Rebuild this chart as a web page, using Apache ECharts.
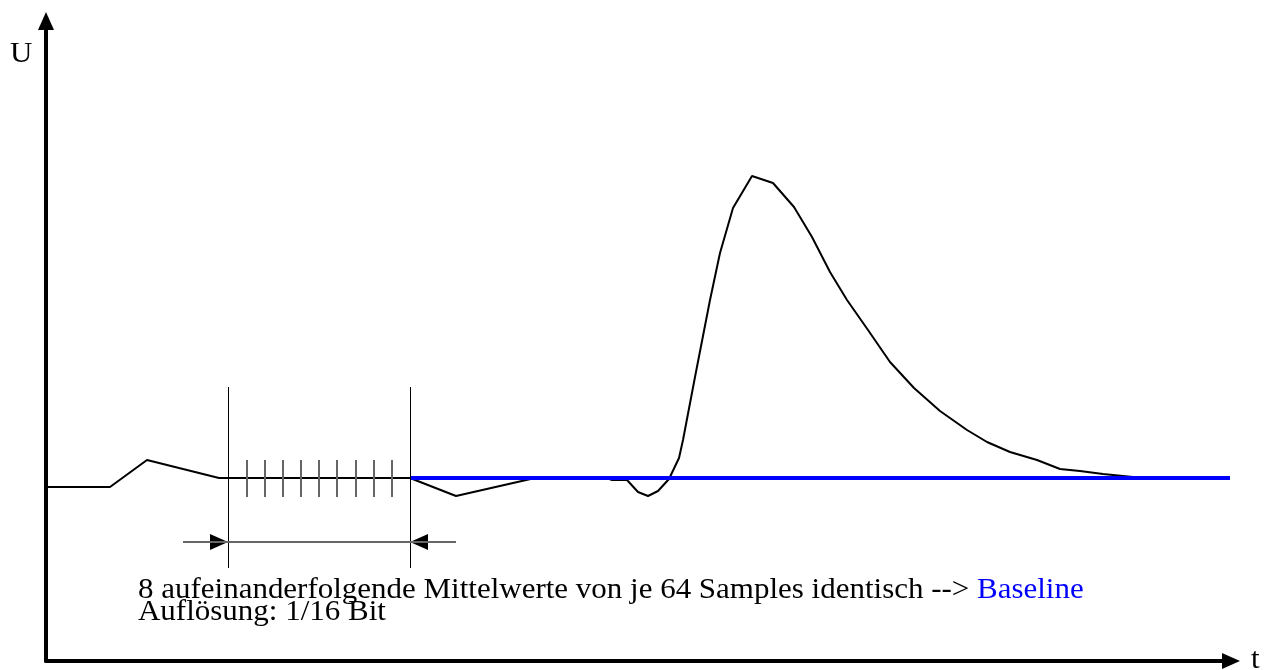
<!DOCTYPE html>
<html>
<head>
<meta charset="utf-8">
<script src="https://cdn.jsdelivr.net/npm/echarts@6/dist/echarts.min.js"></script>
<style>
html,body{margin:0;padding:0;background:#fff;}
#chart{width:1264px;height:670px;}
</style>
</head>
<body>
<div id="chart"></div>
<script>
// Signal (time t, voltage U)
const signalT = [0, 64, 101, 173, 364, 410, 489, 561, 566, 581, 592, 602, 612, 623, 633, 637, 649, 664, 674, 687, 706, 727, 748, 766, 784, 801, 822, 844, 868, 894, 921, 941, 964, 991, 1014, 1034, 1057, 1087, 1099];
const signalU = [174, 174, 201, 183, 183, 165, 183, 183, 181, 181, 169, 165, 170, 182, 203, 221, 284, 361, 408, 453, 485, 478, 454, 424, 389, 361, 331, 299, 273, 250, 231, 219, 209, 201, 192, 190, 187, 184, 183];
// Baseline (blue)
const baselineT = [364, 1184];
const baselineU = [183, 183];
// Averaging window boundaries
const windowT = [182, 364];
const windowU = [93, 274];
// Sample marks inside the window
const sampleT = [201, 219, 237, 255, 273, 291, 310, 328, 346];
const sampleU = [164, 201];
// Dimension line with arrows
const dimT = [137, 410];
const dimU = 119;
const dimArrowTips = [182, 364];
const dimArrowDirs = [1, -1];
// Texts
const axisNameY = 'U';
const axisNameX = 't';
const noteLine1 = '8 aufeinanderfolgende Mittelwerte von je 64 Samples identisch --> ';
const noteBlue = 'Baseline';
const noteLine2 = 'Auflösung: 1/16 Bit';

const FONT = "'Liberation Serif', 'Times New Roman', serif";
const FS = 28.5;
const SX = 1.087;

const chart = echarts.init(document.getElementById('chart'));

const signalData = signalT.map((t, i) => [t, signalU[i]]);
const baselineData = baselineT.map((t, i) => [t, baselineU[i]]);

const windowLines = windowT.map(t => [{coord: [t, windowU[0]]}, {coord: [t, windowU[1]]}]);
const sampleLines = sampleT.map(t => [{coord: [t, sampleU[0]]}, {coord: [t, sampleU[1]]}]);
const dimLines = [[{coord: [dimT[0], dimU]}, {coord: [dimT[1], dimU]}]];
const arrowData = dimArrowTips.map((t, i) => [t, dimU, dimArrowDirs[i]]);

function txt(x, y, text, extra) {
  return {
    type: 'text', x: x, y: y, scaleX: SX, scaleY: 1,
    style: Object.assign({text: text, font: FS + 'px ' + FONT, fill: '#000', verticalAlign: 'middle'}, extra || {})
  };
}

chart.setOption({
  animation: false,
  backgroundColor: '#ffffff',
  grid: {left: 46, right: 33, top: 21, bottom: 9},
  xAxis: {
    type: 'value', min: 0, max: 1185,
    axisLine: {show: true, onZero: false, symbol: ['none', 'triangle'], symbolSize: [16, 18],
      lineStyle: {color: '#000', width: 4}},
    axisTick: {show: false}, axisLabel: {show: false}, splitLine: {show: false}
  },
  yAxis: {
    type: 'value', min: 0, max: 640,
    axisLine: {show: true, onZero: false, symbol: ['none', 'triangle'], symbolSize: [16, 18],
      lineStyle: {color: '#000', width: 4}},
    axisTick: {show: false}, axisLabel: {show: false}, splitLine: {show: false}
  },
  series: [
    {
      type: 'line', data: signalData, symbol: 'none', z: 2,
      lineStyle: {color: '#000', width: 2},
      markLine: {
        silent: true, symbol: 'none', label: {show: false},
        lineStyle: {color: '#000', width: 1, type: 'solid'},
        data: windowLines
      }
    },
    {
      type: 'line', data: [], symbol: 'none', z: 2,
      markLine: {
        silent: true, symbol: 'none', label: {show: false},
        lineStyle: {color: '#666', width: 2, type: 'solid'},
        data: sampleLines.concat(dimLines)
      }
    },
    {
      type: 'line', data: baselineData, symbol: 'none', z: 3,
      lineStyle: {color: '#0000ff', width: 4}
    },
    {
      type: 'custom', data: arrowData, z: 4,
      renderItem: function (params, api) {
        const p = api.coord([api.value(0), api.value(1)]);
        const dir = api.value(2);
        return {
          type: 'polygon',
          shape: {points: [[p[0], p[1]], [p[0] - dir * 18, p[1] - 8], [p[0] - dir * 18, p[1] + 8]]},
          style: {fill: '#000'}
        };
      }
    }
  ],
  graphic: [
    txt(10, 55, axisNameY),
    txt(1251, 661, axisNameX),
    txt(138, 590.5, '{a|' + noteLine1 + '}{b|' + noteBlue + '}', {
      rich: {
        a: {fill: '#000', fontFamily: FONT, fontSize: FS},
        b: {fill: '#0000ff', fontFamily: FONT, fontSize: FS}
      }
    }),
    txt(138, 612.5, noteLine2)
  ]
});
</script>
</body>
</html>
